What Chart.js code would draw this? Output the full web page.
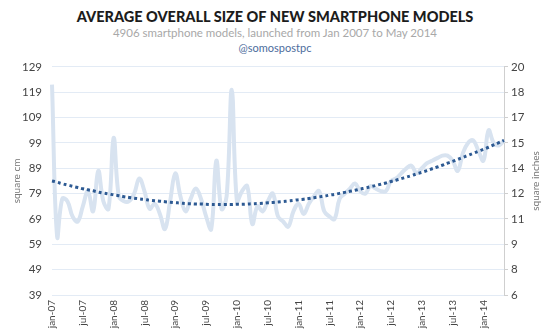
<!DOCTYPE html>
<html lang="en">
<head>
    <meta charset="UTF-8">
    <title>Average overall size of new smartphone models</title>
    <script src="https://cdn.jsdelivr.net/npm/chart.js"></script>
    <style>
        body {
            margin: 0;
            width: 550px;
            height: 336px;
            background: #ffffff;
            font-family: Lato, "Open Sans", sans-serif;
            position: relative;
            overflow: hidden;
        }

        .head {
            position: absolute;
            left: 0;
            width: 550px;
            text-align: center;
            white-space: nowrap;
        }

        #title {
            top: 8px;
            font-size: 14.5px;
            font-weight: 900;
            color: #1c1c1c;
        }

        #subtitle {
            top: 26px;
            font-size: 11.5px;
            color: #a8a8a8;
        }

        #handle {
            top: 41px;
            font-size: 11px;
            color: #4c6c9c;
        }

        .chart-box {
            position: absolute;
            top: 50px;
            left: 0;
            width: 550px;
            height: 286px;
        }
    </style>
</head>
<body>
    <div class="head" id="title">AVERAGE OVERALL SIZE OF NEW SMARTPHONE MODELS</div>
    <div class="head" id="subtitle">4906 smartphone models, launched from Jan 2007 to May 2014</div>
    <div class="head" id="handle">@somospostpc</div>
    <div class="chart-box"><canvas id="sizeChart"></canvas></div>

    <script>
        // months jan-07 .. may-14
        const monthNames = ['jan', 'feb', 'mar', 'apr', 'may', 'jun', 'jul', 'aug', 'sep', 'oct', 'nov', 'dec'];
        const years = ['07', '08', '09', '10', '11', '12', '13', '14'];
        const months = [];
        years.forEach(y => monthNames.forEach(m => months.push(m + '-' + y)));
        months.length = 89;

        // average size per month, square cm
        const avgSize = [
            122, 62, 77, 76, 70, 68, 74, 80, 72, 88, 76, 73,
            101, 78, 76, 76, 79, 85, 80, 73, 75, 71, 65, 76,
            87, 78, 72, 77, 81, 77, 70, 65, 92, 73, 78, 120,
            76, 80, 82, 67, 74, 72, 76, 79, 70, 68, 66, 72,
            75, 71, 75, 78, 80, 72, 70, 69, 77, 79, 81, 83,
            80, 79, 82, 81, 80, 80, 84, 85, 87, 89, 90, 87,
            89, 91, 92, 93, 94, 94, 92, 88, 95, 99, 100, 96,
            92, 104, 99, 98, 100
        ];

        // trend curve, square cm
        const trend = [
            84.0, 83.5, 82.9, 82.4, 81.9, 81.4, 80.9, 80.5, 80.1, 79.6, 79.2, 78.9,
            78.5, 78.2, 77.8, 77.5, 77.2, 76.9, 76.7, 76.4, 76.2, 76.0, 75.8, 75.6,
            75.4, 75.3, 75.1, 75.0, 74.9, 74.9, 74.8, 74.7, 74.7, 74.7, 74.7, 74.7,
            74.8, 74.8, 74.9, 75.0, 75.1, 75.2, 75.4, 75.5, 75.7, 75.9, 76.1, 76.3,
            76.6, 76.8, 77.1, 77.4, 77.7, 78.0, 78.4, 78.7, 79.1, 79.5, 79.9, 80.3,
            80.8, 81.2, 81.7, 82.2, 82.7, 83.2, 83.8, 84.3, 84.9, 85.5, 86.1, 86.8,
            87.4, 88.1, 88.8, 89.5, 90.2, 91.0, 91.7, 92.5, 93.3, 94.1, 94.9, 95.7,
            96.5, 97.3, 98.2, 99.1, 100.0
        ];

        const cmTicks = [39, 49, 59, 69, 79, 89, 99, 109, 119, 129];
        const inchLabels = ['6', '8', '9', '11', '12', '14', '15', '17', '18', '20'];

        const tickFont = { family: 'Lato', size: 11.5 };

        // the right-hand axis title reads bottom to top, like the left one
        const rightTitle = {
            id: 'rightTitle',
            afterDraw(chart) {
                const s = chart.scales.y2;
                const c = chart.ctx;
                c.save();
                c.translate(s.right - 14, (s.top + s.bottom) / 2);
                c.rotate(-Math.PI / 2);
                c.font = '10px Lato';
                c.fillStyle = '#777777';
                c.textAlign = 'center';
                c.textBaseline = 'middle';
                c.fillText('square inches', 0, 0);
                c.restore();
            }
        };

        new Chart(document.getElementById('sizeChart'), {
            type: 'line',
            data: {
                labels: months,
                datasets: [{
                    label: 'trend',
                    data: trend,
                    borderColor: '#2d5a93',
                    borderWidth: 3,
                    borderDash: [3, 3],
                    borderCapStyle: 'butt',
                    pointRadius: 0,
                    tension: 0.4,
                    fill: false,
                    order: 0
                }, {
                    label: 'average size',
                    data: avgSize,
                    borderColor: '#d8e3f0',
                    borderWidth: 4,
                    pointRadius: 0,
                    tension: 0.4,
                    fill: false,
                    order: 1
                }]
            },
            options: {
                responsive: true,
                maintainAspectRatio: false,
                animation: false,
                layout: { padding: { top: 4, left: 0, right: 0, bottom: 0 } },
                plugins: {
                    legend: { display: false },
                    tooltip: { enabled: false }
                },
                scales: {
                    x: {
                        grid: { display: false, drawTicks: false },
                        border: { display: false },
                        ticks: {
                            autoSkip: false,
                            maxRotation: 90,
                            minRotation: 90,
                            padding: 5,
                            color: '#444444',
                            font: { family: 'Lato', size: 10 },
                            callback: (v, i) => (i % 6 === 0 ? months[i] : '')
                        },
                        afterFit: s => { s.height = 41; }
                    },
                    y: {
                        position: 'left',
                        min: 39,
                        max: 129,
                        afterBuildTicks: s => { s.ticks = cmTicks.map(v => ({ value: v })); },
                        grid: { color: '#e3ebf5', lineWidth: 1, drawTicks: false },
                        border: { display: false },
                        ticks: { color: '#444444', font: tickFont, padding: 10 },
                        title: {
                            display: true,
                            text: 'square cm',
                            color: '#777777',
                            font: { family: 'Lato', size: 10 },
                            padding: { top: 11, bottom: 0 }
                        },
                        afterFit: s => { s.width = 52; }
                    },
                    y2: {
                        position: 'right',
                        min: 39,
                        max: 129,
                        afterBuildTicks: s => { s.ticks = cmTicks.map(v => ({ value: v })); },
                        grid: { drawOnChartArea: false, drawTicks: true, tickLength: 4, color: '#cfcfcf' },
                        border: { display: true, color: '#cfcfcf' },
                        ticks: {
                            color: '#444444',
                            font: tickFont,
                            padding: 3,
                            callback: (v, i) => inchLabels[i]
                        },
                        afterFit: s => { s.width = 46; }
                    }
                }
            },
            plugins: [rightTitle]
        });
    </script>
</body>
</html>
